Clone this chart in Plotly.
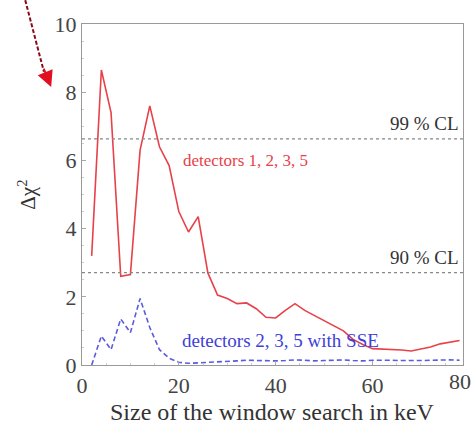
import plotly.graph_objects as go

# Window size (keV) and delta chi-square for the two detector selections
window_kev = [2, 4, 6, 8, 10, 12, 14, 16, 18, 20, 22, 24, 26, 28, 30, 32, 34, 36, 38, 40,
              42, 44, 46, 48, 50, 52, 54, 56, 58, 60, 62, 64, 66, 68, 70, 72, 74, 76, 78]
dchi2_1235 = [3.2, 8.65, 7.4, 2.6, 2.65, 6.3, 7.6, 6.4, 5.85, 4.5, 3.9, 4.35, 2.7, 2.05,
              1.95, 1.8, 1.82, 1.65, 1.4, 1.38, 1.6, 1.8, 1.6, 1.45, 1.3, 1.15, 1.0, 0.75,
              0.6, 0.48, 0.47, 0.46, 0.44, 0.41, 0.46, 0.53, 0.62, 0.68, 0.72]
dchi2_235_sse = [0.0, 0.85, 0.45, 1.35, 0.95, 1.95, 1.1, 0.45, 0.2, 0.08, 0.05, 0.06, 0.07,
                 0.09, 0.1, 0.12, 0.14, 0.13, 0.12, 0.12, 0.13, 0.15, 0.14, 0.12, 0.13,
                 0.14, 0.15, 0.13, 0.12, 0.14, 0.15, 0.14, 0.13, 0.12, 0.13, 0.14, 0.15,
                 0.15, 0.14]

# Confidence-level thresholds
cl_levels = [6.63, 2.71]
cl_labels = ["99 % CL", "90 % CL"]

x_ticks = [0, 20, 40, 60, 80]
y_ticks = [0, 2, 4, 6, 8, 10]
x_max = 78.7

SERIF = "Liberation Serif, Times New Roman, serif"
TICK_FONT = dict(family=SERIF, size=22, color="#444444")

fig = go.Figure()

fig.add_trace(go.Scatter(
    x=window_kev, y=dchi2_1235, mode="lines",
    line=dict(color="#e8414a", width=1.6), showlegend=False,
))
fig.add_trace(go.Scatter(
    x=window_kev, y=dchi2_235_sse, mode="lines",
    line=dict(color="#5b5be0", width=1.6, dash="5px,3px"), showlegend=False,
))

for lvl, lab in zip(cl_levels, cl_labels):
    fig.add_shape(type="line", xref="paper", x0=0, x1=1, yref="y", y0=lvl, y1=lvl,
                  line=dict(color="#888888", width=1.3, dash="3px,3px"))
    fig.add_annotation(x=0.995, xref="paper", xanchor="right", y=lvl, yref="y",
                       yanchor="bottom", yshift=3, text=lab, showarrow=False,
                       font=dict(family=SERIF, size=19, color="#333333"))

fig.add_annotation(x=20.5, y=6.0, xanchor="left", text="detectors 1, 2, 3, 5",
                   showarrow=False, font=dict(family=SERIF, size=17, color="#e8414a"))
fig.add_annotation(x=20.3, y=0.72, xanchor="left", text="detectors 2, 3, 5 with SSE",
                   showarrow=False, font=dict(family=SERIF, size=19, color="#4040d8"))

# Tick label beyond the frame's right edge, kept inside the page
for t in x_ticks:
    if t > x_max:
        fig.add_annotation(x=1.0, xref="paper", xshift=10, y=0, yref="paper",
                           yanchor="top", xanchor="right", yshift=-2, text=str(t),
                           showarrow=False, font=TICK_FONT)

# Axis titles
fig.add_annotation(x=-0.144, y=0.5, xref="paper", yref="paper", xanchor="center",
                   yanchor="middle", text="Δχ<sup>2</sup>",
                   textangle=-90, showarrow=False,
                   font=dict(family=SERIF, size=21, color="#333333"))
fig.add_annotation(x=0.499, y=-0.138, xref="paper", yref="paper", xanchor="center",
                   yanchor="middle",
                   text="Size of the window search in keV", showarrow=False,
                   font=dict(family=SERIF, size=24, color="#333333"))

# Pointer arrow in the top-left corner
fig.add_shape(type="line", xref="paper", yref="paper",
              x0=-0.149, y0=1.07, x1=-0.1, y1=0.86,
              line=dict(color="#8b0a1a", width=2, dash="4px,2px"))
fig.add_annotation(x=-0.081, y=0.815, xref="paper", yref="paper", text="",
                   showarrow=True, arrowhead=2, arrowsize=1.6, arrowwidth=2,
                   arrowcolor="#e01020", ax=-8, ay=-20)

axis_common = dict(
    showline=True, mirror=True, linecolor="#999999", linewidth=1.2,
    ticks="inside", ticklen=4, tickcolor="#aaaaaa",
    showgrid=False, zeroline=False, automargin=False,
    tickfont=TICK_FONT,
)
fig.update_xaxes(range=[0, x_max], tickvals=x_ticks,
                 minor=dict(ticks="inside", ticklen=2, dtick=5, tickcolor="#cccccc"),
                 **axis_common)
fig.update_yaxes(range=[0, 10], tickvals=y_ticks,
                 minor=dict(ticks="inside", ticklen=2, dtick=0.5, tickcolor="#cccccc"),
                 **axis_common)

fig.update_layout(
    width=474, height=428,
    margin=dict(l=82, r=11, t=24, b=63),
    plot_bgcolor="white", paper_bgcolor="white",
)

fig.write_html("out.html")
